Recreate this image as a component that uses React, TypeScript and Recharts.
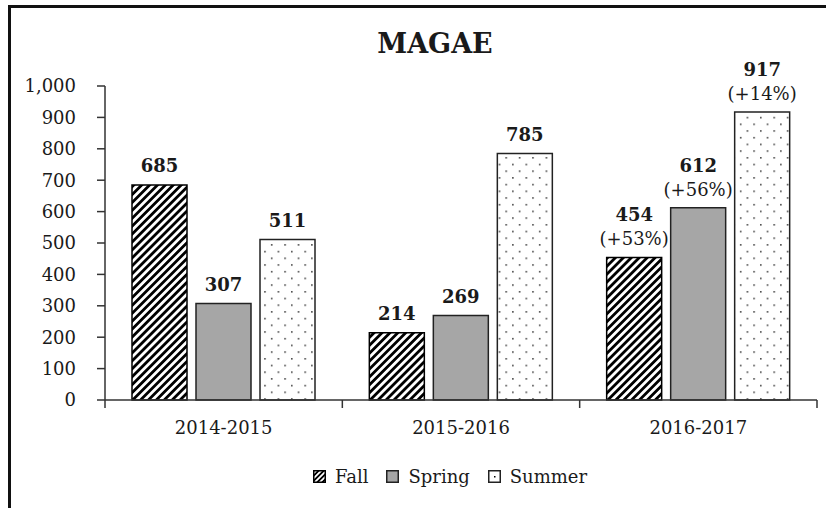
import React from "react";
import { BarChart, Bar, XAxis, YAxis, Legend, LabelList } from "recharts";

const categories = ["2014-2015", "2015-2016", "2016-2017"];
const fallValues = [685, 214, 454];
const springValues = [307, 269, 612];
const summerValues = [511, 785, 917];
const fallChange = ["", "", "(+53%)"];
const springChange = ["", "", "(+56%)"];
const summerChange = ["", "", "(+14%)"];
const yTicks = [0, 100, 200, 300, 400, 500, 600, 700, 800, 900, 1000];
const boundaryTicks = [0, 1, 2, 3];

const data = categories.map((c, i) => ({
  name: c,
  Fall: fallValues[i],
  Spring: springValues[i],
  Summer: summerValues[i],
}));

const FONT = "'DejaVu Serif', serif";
const INK = "#1a1a1a";

const makeLabel = (changes: string[]) => (props: any) => {
  const { x, y, width, value, index } = props;
  const cx = Number(x) + Number(width) / 2;
  const top = Number(y);
  const pct = changes[index];
  if (pct) {
    return (
      <g>
        <text x={cx} y={top - 36} textAnchor="middle" fontFamily={FONT} fontSize={18} fontWeight="bold" fill={INK}>
          {value}
        </text>
        <text x={cx} y={top - 12} textAnchor="middle" fontFamily={FONT} fontSize={18} fill={INK}>
          {pct}
        </text>
      </g>
    );
  }
  return (
    <text x={cx} y={top - 13} textAnchor="middle" fontFamily={FONT} fontSize={18} fontWeight="bold" fill={INK}>
      {value}
    </text>
  );
};

const legendItems = [
  { name: "Fall", kind: "hatch" },
  { name: "Spring", kind: "gray" },
  { name: "Summer", kind: "dot" },
];

const LegendContent = () => (
  <div style={{ display: "flex", justifyContent: "center", alignItems: "center", fontFamily: FONT, fontSize: 18, color: INK }}>
    {legendItems.map((it, i) => (
      <div key={it.name} style={{ display: "flex", alignItems: "center", marginRight: i < 2 ? 18 : 0 }}>
        <svg width={13} height={13} style={{ marginRight: 9 }}>
          {it.kind === "hatch" && (
            <>
              <defs>
                <pattern id="legHatch" width="3.6" height="3.6" patternUnits="userSpaceOnUse" patternTransform="rotate(45)">
                  <rect x="0" y="0" width="1.8" height="3.6" fill="#000" />
                </pattern>
              </defs>
              <rect x={0.75} y={0.75} width={11.5} height={11.5} fill="url(#legHatch)" stroke="#000" strokeWidth={1.5} />
            </>
          )}
          {it.kind === "gray" && (
            <rect x={0.75} y={0.75} width={11.5} height={11.5} fill="#a6a6a6" stroke="#222" strokeWidth={1.5} />
          )}
          {it.kind === "dot" && (
            <>
              <rect x={0.75} y={0.75} width={11.5} height={11.5} fill="#fff" stroke="#222" strokeWidth={1.5} />
              <rect x={6} y={6} width={1.5} height={1.5} fill="#000" />
            </>
          )}
        </svg>
        <span>{it.name}</span>
      </div>
    ))}
  </div>
);

export default function App() {
  return (
    <div style={{ position: "absolute", left: 0, top: 0, width: 826, height: 508, background: "#fff", overflow: "hidden" }}>
      <div style={{ position: "absolute", left: 8, top: 5, width: 818, height: 3, background: "#111" }} />
      <div style={{ position: "absolute", left: 8, top: 5, width: 3, height: 503, background: "#111" }} />
      <div style={{ position: "absolute", left: 0, top: 28, width: 870, textAlign: "center", fontFamily: FONT, fontSize: 27, fontWeight: "bold", color: INK }}>
        MAGAE
      </div>
      <div style={{ position: "absolute", left: 0, top: 0 }}>
        <BarChart
          width={826}
          height={508}
          data={data}
          margin={{ top: 86, right: 9, bottom: 106, left: 0 }}
          barSize={55}
          barGap={9}
        >
          <defs>
            <pattern id="hatch" width="5.6" height="5.6" patternUnits="userSpaceOnUse" patternTransform="rotate(45)">
              <rect x="0" y="0" width="2.8" height="5.6" fill="#000" />
            </pattern>
            <pattern id="dots" width="13.4" height="13.4" patternUnits="userSpaceOnUse">
              <rect x="3" y="3" width="1.4" height="1.4" fill="#111" />
              <rect x="9.7" y="9.7" width="1.4" height="1.4" fill="#111" />
            </pattern>
          </defs>
          <XAxis
            xAxisId="bounds"
            dataKey="pos"
            type="number"
            domain={[0, 3]}
            allowDataOverflow
            ticks={boundaryTicks}
            interval={0}
            tickFormatter={() => ""}
            tickSize={8}
            height={1}
            axisLine={{ stroke: "#333", strokeWidth: 1.5 }}
            tickLine={{ stroke: "#333", strokeWidth: 1.5 }}
          />
          <XAxis
            xAxisId="cat"
            dataKey="name"
            type="category"
            interval={0}
            height={1}
            axisLine={false}
            tickLine={false}
            tickSize={0}
            tickMargin={20}
            tick={{ fontFamily: FONT, fontSize: 18, fill: INK }}
          />
          <YAxis
            width={105}
            domain={[0, 1000]}
            ticks={yTicks}
            interval={0}
            tickSize={8}
            tickMargin={21}
            tickFormatter={(v: number) => v.toLocaleString("en-US")}
            axisLine={{ stroke: "#333", strokeWidth: 1.5 }}
            tickLine={{ stroke: "#333", strokeWidth: 1.5 }}
            tick={{ fontFamily: FONT, fontSize: 18, fill: INK }}
          />
          <Legend
            layout="horizontal"
            verticalAlign="middle"
            align="center"
            wrapperStyle={{ top: 466, left: 0, width: 900 }}
            content={<LegendContent />}
          />
          <Bar xAxisId="cat" dataKey="Fall" fill="url(#hatch)" stroke="#000" strokeWidth={1.5} isAnimationActive={false}>
            <LabelList dataKey="Fall" content={makeLabel(fallChange)} />
          </Bar>
          <Bar xAxisId="cat" dataKey="Spring" fill="#a6a6a6" stroke="#222" strokeWidth={1.5} isAnimationActive={false}>
            <LabelList dataKey="Spring" content={makeLabel(springChange)} />
          </Bar>
          <Bar xAxisId="cat" dataKey="Summer" fill="url(#dots)" stroke="#222" strokeWidth={1.5} isAnimationActive={false}>
            <LabelList dataKey="Summer" content={makeLabel(summerChange)} />
          </Bar>
        </BarChart>
      </div>
    </div>
  );
}
